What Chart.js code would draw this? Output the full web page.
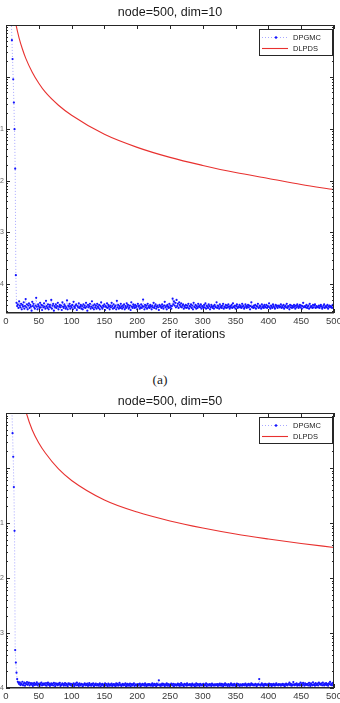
<!DOCTYPE html>
<html>
<head>
<meta charset="utf-8">
<script src="https://cdn.jsdelivr.net/npm/chart.js@4.4.0/dist/chart.umd.min.js"></script>
<style>
  html, body { margin: 0; padding: 0; background: #fff; }
  body { width: 340px; height: 703px; overflow: hidden; position: relative; }
  canvas { position: absolute; left: 0; }
  #chartA { top: 0; }
  #chartB { top: 390px; }
  .caption { position: absolute; left: 0; top: 371px; width: 320px; text-align: center;
    font: 13.5px "Liberation Serif", "Times New Roman", serif; line-height: 18px; color: #222; }
</style>
</head>
<body>
<canvas id="chartA" width="346" height="350"></canvas>
<div class="caption">(a)</div>
<canvas id="chartB" width="346" height="313"></canvas>
<script>
// x axis
const xTickValues = [0, 50, 100, 150, 200, 250, 300, 350, 400, 450, 500];
// y axis: only the exponent of 10^-n is visible (labels cut at the left edge)
const yLabelDecades = [-1, -2, -3, -4];
const yLabelText = ["1", "2", "3", "4"];

// DPGMC, dim=10: iterations 1-15
const headA = [5000, 2000, 800, 300, 120, 60, 30, 14, 5.1, 2.2, 0.9, 0.32, 0.098, 0.017, 1.5e-4];
// DPGMC, dim=10: iterations 16-500, in units of 1e-6
const floorA = [
  44, 38, 41, 35, 47, 39, 36, 42, 33, 40, 37, 45, 34, 38, 52, 36, 41, 33, 39, 43,
  35, 40, 37, 31, 46, 38, 42, 36, 34, 39, 55, 37, 33, 41, 38, 35, 44, 36, 40, 32,
  39, 36, 43, 37, 34, 48, 38, 35, 41, 33, 37, 40, 36, 50, 34, 39, 42, 31, 38, 36,
  41, 35, 38, 44, 33, 37, 40, 36, 39, 32, 45, 37, 35, 41, 38, 34, 36, 49, 33, 39,
  37, 42, 34, 38, 36, 40, 33, 46, 37, 35, 39, 41, 32, 38, 36, 43, 35, 37, 40, 34,
  38, 33, 41, 36, 39, 35, 44, 37, 31, 40, 36, 38, 42, 34, 37, 47, 35, 39, 33, 41,
  36, 39, 34, 42, 37, 35, 40, 33, 38, 45, 36, 34, 39, 37, 41, 32, 38, 36, 43, 35,
  40, 37, 33, 39, 36, 44, 38, 34, 41, 35, 37, 39, 33, 48, 36, 40, 34, 38, 35, 42,
  37, 34, 39, 36, 41, 33, 38, 35, 43, 37, 40, 34, 36, 39, 32, 45, 37, 35, 41, 38,
  35, 40, 36, 38, 33, 42, 37, 39, 34, 36, 41, 35, 38, 51, 37, 33, 40, 36, 39, 34,
  42, 36, 38, 35, 40, 37, 33, 39, 36, 44, 35, 38, 41, 34, 37, 39, 36, 32, 40, 37,
  38, 35, 41, 37, 34, 39, 46, 36, 38, 33, 40, 37, 35, 42, 36, 39, 34, 38, 53, 41,
  47, 39, 44, 36, 50, 38, 42, 35, 45, 40, 37, 43, 36, 39, 41, 34, 38, 36, 40, 35,
  39, 36, 42, 34, 38, 37, 41, 35, 39, 33, 44, 37, 36, 40, 34, 38, 35, 42, 37, 39,
  36, 41, 34, 38, 37, 35, 40, 36, 43, 34, 39, 37, 35, 41, 38, 33, 36, 40, 37, 35,
  38, 34, 40, 37, 36, 45, 35, 39, 37, 34, 41, 36, 38, 35, 39, 42, 34, 37, 36, 40,
  35, 39, 36, 41, 37, 34, 38, 36, 40, 35, 43, 37, 36, 39, 34, 38, 41, 35, 37, 36,
  40, 36, 38, 35, 42, 37, 39, 34, 36, 41, 38, 35, 37, 40, 36, 39, 33, 38, 45, 36,
  37, 35, 39, 36, 40, 34, 38, 37, 42, 35, 36, 39, 37, 34, 41, 36, 38, 35, 40, 37,
  36, 40, 35, 38, 37, 43, 36, 34, 39, 37, 35, 41, 38, 36, 34, 40, 37, 39, 35, 38,
  39, 36, 37, 41, 35, 38, 36, 40, 34, 37, 39, 36, 42, 35, 38, 37, 33, 40, 36, 39,
  35, 38, 36, 40, 37, 34, 39, 36, 41, 38, 35, 37, 40, 36, 39, 34, 38, 44, 36, 37,
  38, 36, 40, 35, 37, 39, 34, 42, 36, 38, 37, 35, 40, 36, 39, 41, 35, 38, 36, 37,
  36, 39, 35, 38, 40, 37, 34, 36, 39, 41, 35, 37, 38, 36, 40, 34, 37, 39, 36, 38,
  37, 35, 40, 36, 38
];

// DPGMC, dim=50: iterations 1-18
const headB = [9000, 3500, 1200, 500, 220, 110, 60, 30, 12, 4.3, 1.6, 0.45, 0.072, 4.9e-4, 2.9e-4, 1.9e-4, 1.45e-4, 1.3e-4];
// DPGMC, dim=50: iterations 19-500, in units of 1e-6
const floorB = [
  124, 118, 127, 113, 121, 116, 130, 112, 119, 125, 110, 122, 117, 128, 114, 120, 126, 111, 118, 123,
  115, 121, 109, 118, 124, 113, 119, 116, 127, 112, 120, 117, 108, 122, 115, 125, 111, 119, 114, 121,
  117, 112, 123, 110, 118, 126, 114, 120, 109, 116, 122, 113, 119, 111, 124, 117, 108, 121, 115, 119,
  112, 120, 116, 124, 109, 117, 113, 121, 118, 110, 115, 123, 111, 119, 114, 108, 122, 116, 120, 113,
  119, 110, 117, 114, 122, 108, 116, 120, 112, 125, 113, 118, 109, 121, 115, 111, 119, 117, 107, 114,
  116, 121, 111, 118, 113, 120, 109, 115, 123, 112, 117, 110, 119, 114, 122, 108, 116, 113, 120, 111,
  113, 118, 110, 115, 121, 107, 117, 112, 119, 114, 109, 116, 122, 111, 118, 113, 108, 120, 115, 110,
  117, 112, 120, 109, 114, 118, 111, 116, 108, 121, 113, 119, 110, 115, 124, 112, 117, 109, 114, 119,
  111, 116, 113, 121, 108, 115, 119, 110, 117, 112, 120, 107, 114, 118, 111, 116, 122, 109, 113, 117,
  114, 109, 118, 112, 116, 120, 108, 115, 111, 119, 113, 117, 110, 121, 114, 108, 116, 112, 118, 111,
  118, 113, 110, 117, 121, 109, 114, 119, 112, 116, 108, 120, 113, 115, 138, 111, 117, 109, 114, 120,
  112, 119, 115, 108, 116, 113, 121, 110, 118, 114, 109, 117, 112, 120, 115, 111, 119, 108, 116, 113,
  117, 110, 114, 120, 112, 118, 109, 115, 123, 111, 116, 113, 108, 119, 114, 117, 110, 121, 112, 115,
  113, 118, 111, 116, 109, 120, 114, 112, 117, 108, 115, 122, 110, 118, 113, 116, 109, 119, 114, 111,
  116, 112, 119, 110, 115, 113, 121, 108, 117, 114, 111, 118, 112, 116, 109, 120, 113, 115, 110, 117,
  111, 117, 113, 118, 109, 116, 112, 120, 114, 110, 119, 115, 108, 117, 113, 121, 111, 116, 114, 109,
  118, 114, 109, 116, 121, 112, 117, 110, 115, 119, 113, 108, 116, 120, 111, 118, 114, 109, 117, 112,
  115, 110, 118, 113, 116, 111, 120, 114, 109, 117, 112, 119, 115, 110, 116, 122, 113, 118, 111, 114,
  112, 119, 115, 108, 117, 113, 118, 145, 114, 110, 116, 121, 112, 117, 109, 115, 119, 113, 116, 111,
  117, 113, 120, 111, 115, 118, 109, 116, 112, 119, 114, 110, 117, 121, 113, 115, 111, 118, 114, 116,
  110, 116, 113, 119, 112, 117, 108, 115, 120, 114, 111, 118, 116, 125, 113, 119, 110, 117, 112, 128,
  116, 112, 118, 114, 121, 110, 117, 113, 119, 111, 126, 115, 120, 112, 124, 117, 110, 122, 114, 118,
  113, 119, 111, 124, 115, 109, 121, 116, 112, 127, 114, 118, 110, 123, 116, 113, 120, 111, 125, 117,
  119, 114, 122, 112, 126, 116, 111, 120, 115, 123, 113, 118, 110, 121, 117, 129, 114, 119, 112, 124,
  118, 115
];

// DLPDS curves, read at selected iterations
const redItersA = [10, 15, 20, 25, 30, 40, 50, 60, 80, 100, 150, 200, 250, 300, 350, 400, 450, 500];
const redValsA = [25, 10.5, 5.61, 3.44, 2.3, 1.23, 0.755, 0.506, 0.284, 0.182, 0.078, 0.0437, 0.028, 0.0196, 0.0143, 0.011, 0.0084, 0.0067];
const redItersB = [20, 31, 40, 50, 60, 80, 100, 150, 200, 250, 300, 350, 400, 450, 500];
const redValsB = [32, 10, 4.91, 2.85, 1.87, 0.96, 0.593, 0.262, 0.158, 0.109, 0.081, 0.063, 0.0512, 0.0424, 0.0359];

Chart.defaults.font.family = '"Liberation Sans", Arial, sans-serif';

function toPoints(head, floor) {
  return head.concat(floor.map(v => v * 1e-6)).map((v, i) => ({ x: i + 1, y: v }));
}

function yLabel(v) {
  const e = Math.log10(v);
  if (Math.abs(e - Math.round(e)) > 1e-6) return "";
  const idx = yLabelDecades.indexOf(Math.round(e));
  return idx >= 0 ? yLabelText[idx] : "";
}

// MATLAB style frame, inward ticks and boxed legend
const matlabBox = {
  id: "matlabBox",
  afterDatasetsDraw(chart) {
    const { ctx, chartArea: area, scales: { x, y } } = chart;
    ctx.save();
    ctx.strokeStyle = "#262626";
    ctx.lineWidth = 1;
    ctx.beginPath();
    xTickValues.forEach(v => {
      const px = Math.round(x.getPixelForValue(v)) + 0.5;
      ctx.moveTo(px, area.top); ctx.lineTo(px, area.top + 4);
      ctx.moveTo(px, area.bottom); ctx.lineTo(px, area.bottom - 4);
    });
    const e0 = Math.floor(Math.log10(y.min)), e1 = Math.ceil(Math.log10(y.max));
    for (let e = e0; e <= e1; e++) {
      for (let k = 1; k <= 9; k++) {
        const v = k * Math.pow(10, e);
        if (v < y.min || v > y.max) continue;
        const py = Math.round(y.getPixelForValue(v)) + 0.5;
        const len = k === 1 ? 4 : 2;
        ctx.moveTo(area.left, py); ctx.lineTo(area.left + len, py);
        ctx.moveTo(area.right, py); ctx.lineTo(area.right - len, py);
      }
    }
    ctx.stroke();
    const l = Math.round(area.left), t = Math.round(area.top);
    const r = Math.round(area.right), b = Math.round(area.bottom);
    ctx.strokeRect(l + 0.5, t + 0.5, r - l - 1, b - t - 1);
    ctx.lineWidth = 1.5;
    ctx.beginPath(); ctx.moveTo(l, b - 0.25); ctx.lineTo(r, b - 0.25); ctx.stroke();

    // legend
    const bw = 73, bh = 26;
    const bx = r - 2 - bw, by = t + 4;
    ctx.fillStyle = "#fff";
    ctx.fillRect(bx, by, bw, bh);
    ctx.lineWidth = 1;
    ctx.strokeStyle = "#262626";
    ctx.strokeRect(bx + 0.5, by + 0.5, bw, bh);
    ctx.font = '7.5px "Liberation Sans", Arial, sans-serif';
    ctx.textBaseline = "middle";
    chart.data.datasets.forEach((d, i) => {
      const ly = by + 8 + i * 11;
      ctx.save();
      ctx.strokeStyle = d.borderColor;
      ctx.lineWidth = d.borderWidth;
      ctx.setLineDash(d.borderDash || []);
      ctx.beginPath(); ctx.moveTo(bx + 3, ly + 0.5); ctx.lineTo(bx + 29, ly + 0.5); ctx.stroke();
      ctx.restore();
      if (d.pointRadius > 0) {
        ctx.fillStyle = d.pointBackgroundColor;
        ctx.beginPath(); ctx.arc(bx + 17, ly + 0.5, 1.2, 0, Math.PI * 2); ctx.fill();
      }
      ctx.fillStyle = "#222";
      ctx.fillText(d.label, bx + 34, ly + 0.5);
    });
    ctx.restore();
  }
};

function makeChart(id, title, blue, redX, redY, yMin, geo) {
  return new Chart(document.getElementById(id), {
    type: "line",
    data: {
      datasets: [
        {
          label: "DPGMC",
          data: blue,
          borderColor: "rgba(70,70,255,0.6)",
          borderWidth: 0.8,
          borderDash: [1, 2],
          pointRadius: 1.1,
          pointBackgroundColor: "#1414ff",
          pointBorderWidth: 0,
          tension: 0
        },
        {
          label: "DLPDS",
          data: redX.map((x, i) => ({ x: x, y: redY[i] })),
          borderColor: "#e8312f",
          borderWidth: 1.1,
          pointRadius: 0,
          cubicInterpolationMode: "monotone"
        }
      ]
    },
    options: {
      responsive: false,
      animation: false,
      devicePixelRatio: 1,
      layout: { padding: { left: 0, right: 12, top: 0, bottom: 0 } },
      plugins: {
        legend: { display: false },
        tooltip: { enabled: false },
        title: {
          display: true,
          text: title,
          fullSize: false,
          color: "#1a1a1a",
          font: { size: 12.5, weight: "normal" },
          padding: { top: geo.titleTop, bottom: geo.titleBottom }
        }
      },
      scales: {
        x: {
          type: "linear",
          min: 0,
          max: 500,
          grid: { display: false, drawTicks: false },
          border: { display: false },
          afterBuildTicks: s => { s.ticks = xTickValues.map(v => ({ value: v })); },
          ticks: { autoSkip: false, maxRotation: 0, padding: 3, color: "#3a3a3a", font: { size: 9.5 } },
          title: {
            display: !!geo.xTitle,
            text: geo.xTitle || "",
            color: "#1a1a1a",
            font: { size: 12.5 },
            padding: { top: 0, bottom: 7.5 }
          },
          afterFit: s => { s.height = geo.xHeight; }
        },
        y: {
          type: "logarithmic",
          min: yMin,
          max: 10,
          grid: { display: false, drawTicks: false },
          border: { display: false },
          ticks: { autoSkip: false, padding: 2, color: "#666", font: { size: 7 }, callback: v => yLabel(v) },
          afterFit: s => { s.width = 6; }
        }
      }
    },
    plugins: [matlabBox]
  });
}

makeChart("chartA", "node=500, dim=10", toPoints(headA, floorA), redItersA, redValsA, 2.8e-5,
  { titleTop: 5.5, titleBottom: 4.5, xHeight: 37, xTitle: "number of iterations" });
makeChart("chartB", "node=500, dim=50", toPoints(headB, floorB), redItersB, redValsB, 1e-4,
  { titleTop: 4.5, titleBottom: 3.5, xHeight: 15 });
</script>
</body>
</html>
